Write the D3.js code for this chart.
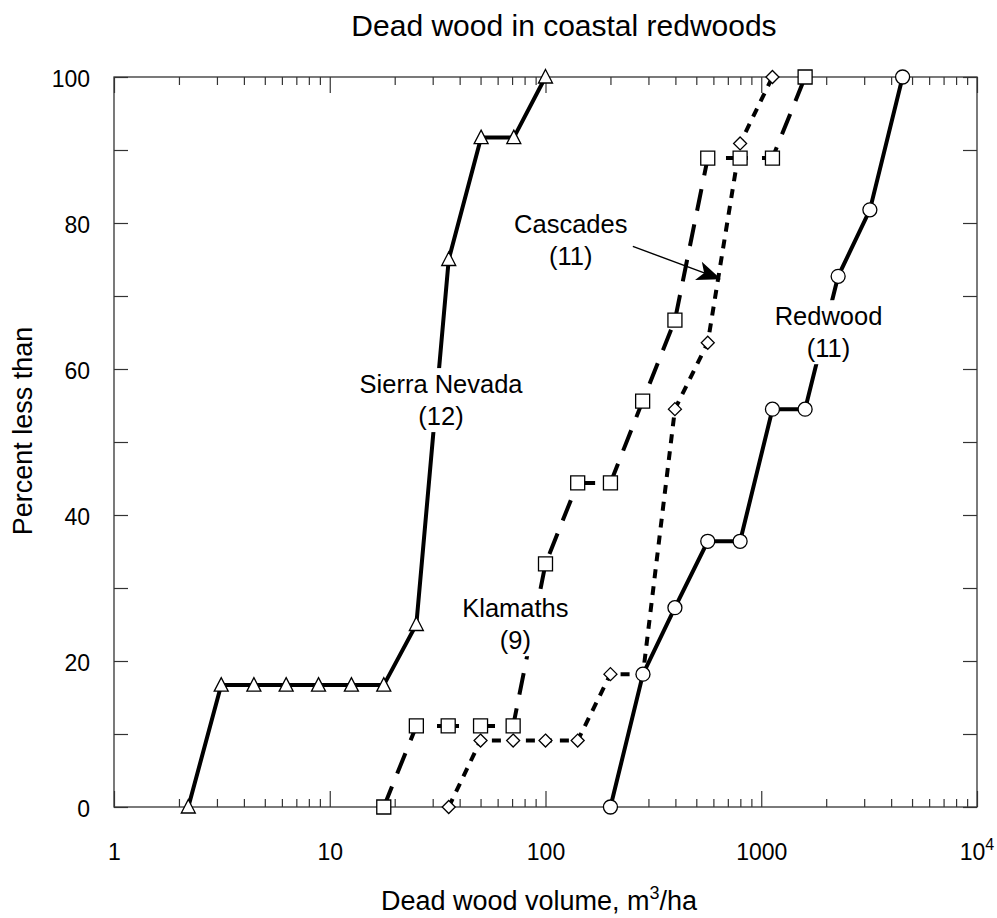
<!DOCTYPE html>
<html>
<head>
<meta charset="utf-8">
<script src="https://cdn.jsdelivr.net/npm/d3@7"></script>
<style>
  body { margin: 0; background: #fff; }
  text { font-family: "Liberation Sans", Arial, Helvetica, sans-serif; fill: #000; }
</style>
</head>
<body>
<svg id="chart" width="997" height="918"></svg>
<script>
// valores (volumen m3/ha, porcentaje)
const sierraX = [2.21, 3.14, 4.45, 6.28, 8.87, 12.6, 17.8, 25.2, 35.6, 50.3, 71.3, 100];
const sierraY = [0, 16.7, 16.7, 16.7, 16.7, 16.7, 16.7, 25, 75, 91.7, 91.7, 100];

const klamathX = [17.8, 25.2, 35.4, 50, 70.8, 100, 141, 200, 282, 398, 565, 798, 1127, 1597];
const klamathY = [0, 11.1, 11.1, 11.1, 11.1, 33.3, 44.4, 44.4, 55.6, 66.7, 88.9, 88.9, 88.9, 100];

const cascadeX = [35.6, 50, 70.8, 100, 141, 200, 283, 398, 565, 798, 1127];
const cascadeY = [0, 9.1, 9.1, 9.1, 9.1, 18.2, 18.2, 54.5, 63.6, 90.9, 100];

const redwoodX = [200, 283, 398, 565, 798, 1127, 1597, 2272, 3188, 4520];
const redwoodY = [0, 18.2, 27.3, 36.4, 36.4, 54.5, 54.5, 72.7, 81.8, 100];

const yTickValues = [0, 10, 20, 30, 40, 50, 60, 70, 80, 90, 100];
const xTickLabels = [1, 10, 100, 1000];

// etiquetas dentro del grafico: texto y posicion en unidades de datos
const labels = [
  { lines: ['Sierra Nevada', '(12)'], x: 32.8, y: 56.7 },
  { lines: ['Cascades', '(11)'], x: 131, y: 78.6 },
  { lines: ['Klamaths', '(9)'], x: 72.5, y: 26.0 },
  { lines: ['Redwood', '(11)'], x: 2050, y: 66.0 }
];
const arrowFrom = [254, 76.8];
const arrowTo = [651, 72.3];

const svg = d3.select('#chart');
const font = '"Liberation Sans", Arial, Helvetica, sans-serif';

const x = d3.scaleLog().domain([1, 1e4]).range([114, 977]);
const y = d3.scaleLinear().domain([0, 100]).range([807, 77]);

// titulo
svg.append('text')
  .attr('x', 564).attr('y', 36)
  .attr('text-anchor', 'middle')
  .attr('font-size', 30)
  .text('Dead wood in coastal redwoods');

const xt = x.ticks();
const isMajor = d => Math.abs(Math.log10(d) % 1) < 1e-9;

// eje inferior, ticks hacia dentro
let gx = svg.append('g').attr('transform', 'translate(0,807)')
  .call(d3.axisBottom(x).tickValues(xt).tickSize(-16).tickPadding(37)
    .tickFormat(d => xTickLabels.includes(d) ? d : ''));
gx.selectAll('.tick line').attr('y2', d => isMajor(d) ? -16 : -8);

// eje superior
let gxt = svg.append('g').attr('transform', 'translate(0,77)')
  .call(d3.axisTop(x).tickValues(xt).tickSize(-16).tickFormat(''));
gxt.selectAll('.tick line').attr('y2', d => isMajor(d) ? 16 : 8);

// eje izquierdo y derecho
let gy = svg.append('g').attr('transform', 'translate(114,2)')
  .call(d3.axisLeft(y).tickValues(yTickValues).tickSize(-14).tickPadding(24)
    .tickFormat(d => d % 20 === 0 ? d : ''));
gy.selectAll('.tick line').attr('transform', 'translate(0,-2)');
let gyr = svg.append('g').attr('transform', 'translate(977,0)')
  .call(d3.axisRight(y).tickValues(yTickValues).tickSize(-14).tickFormat(''));

[gx, gxt, gy, gyr].forEach(g => {
  g.select('.domain').remove();
  g.selectAll('.tick line').attr('stroke', '#333').attr('stroke-width', 1.2);
  g.selectAll('text').attr('font-size', 23).attr('font-family', font).attr('fill', '#000');
});

// etiqueta 10^4
let t4 = svg.append('text')
  .attr('x', x(1e4)).attr('y', 860)
  .attr('text-anchor', 'middle')
  .attr('font-size', 23);
t4.append('tspan').text('10');
t4.append('tspan').attr('font-size', 16).attr('dy', -10).text('4');

// marco
svg.append('rect')
  .attr('x', 114).attr('y', 77)
  .attr('width', 977 - 114).attr('height', 807 - 77)
  .attr('fill', 'none').attr('stroke', '#333').attr('stroke-width', 1.3);

// titulos de ejes
let xtitle = svg.append('text')
  .attr('x', 539).attr('y', 910)
  .attr('text-anchor', 'middle')
  .attr('font-size', 27);
xtitle.append('tspan').text('Dead wood volume, m');
xtitle.append('tspan').attr('font-size', 18).attr('dy', -11).text('3');
xtitle.append('tspan').attr('dy', 11).text('/ha');

svg.append('text')
  .attr('transform', 'translate(32,431) rotate(-90)')
  .attr('text-anchor', 'middle')
  .attr('font-size', 27)
  .text('Percent less than');

// series
const series = [
  { xs: sierraX, ys: sierraY, dash: null, marker: 'triangle' },
  { xs: klamathX, ys: klamathY, dash: '22,14', marker: 'square' },
  { xs: cascadeX, ys: cascadeY, dash: '9,8', marker: 'diamond' },
  { xs: redwoodX, ys: redwoodY, dash: null, marker: 'circle' }
];

const line = d3.line().x(d => x(d[0])).y(d => y(d[1]));

series.forEach(s => {
  svg.append('path')
    .datum(d3.zip(s.xs, s.ys))
    .attr('d', line)
    .attr('fill', 'none')
    .attr('stroke', '#000')
    .attr('stroke-width', 4)
    .attr('stroke-dasharray', s.dash);
});

// etiquetas con fondo blanco
labels.forEach(l => {
  let g = svg.append('g');
  let t = g.append('text')
    .attr('text-anchor', 'middle')
    .attr('font-size', 25.5);
  l.lines.forEach((ln, i) => {
    t.append('tspan')
      .attr('x', x(l.x))
      .attr('y', y(l.y) + i * 32)
      .text(ln);
  });
  let bb = t.node().getBBox();
  g.insert('rect', 'text')
    .attr('x', bb.x - 3).attr('y', bb.y - 2)
    .attr('width', bb.width + 6).attr('height', bb.height + 4)
    .attr('fill', '#fff');
});

// marcadores
const shapes = {
  triangle: 'M0,-7.5L7,6L-7,6Z',
  square: 'M-7,-7L7,-7L7,7L-7,7Z',
  diamond: 'M0,-6.5L6.5,0L0,6.5L-6.5,0Z'
};

series.forEach(s => {
  let pts = d3.zip(s.xs, s.ys);
  if (s.marker === 'circle') {
    svg.append('g').selectAll('circle').data(pts).enter()
      .append('circle')
      .attr('cx', d => x(d[0]))
      .attr('cy', d => y(d[1]))
      .attr('r', 7)
      .attr('fill', '#fff').attr('stroke', '#000').attr('stroke-width', 1.3);
  } else {
    svg.append('g').selectAll('path').data(pts).enter()
      .append('path')
      .attr('d', shapes[s.marker])
      .attr('transform', d => `translate(${x(d[0])},${y(d[1])})`)
      .attr('fill', '#fff').attr('stroke', '#000').attr('stroke-width', 1.3);
  }
});

// flecha de Cascades
const ax0 = x(arrowFrom[0]), ay0 = y(arrowFrom[1]);
const ax1 = x(arrowTo[0]), ay1 = y(arrowTo[1]);
const ang = Math.atan2(ay1 - ay0, ax1 - ax0);
const headLen = 26, spread = 22 * Math.PI / 180, notch = 18;
svg.append('line')
  .attr('x1', ax0).attr('y1', ay0)
  .attr('x2', ax1 - notch * Math.cos(ang)).attr('y2', ay1 - notch * Math.sin(ang))
  .attr('stroke', '#000').attr('stroke-width', 1.4);
const head = [
  [ax1, ay1],
  [ax1 - headLen * Math.cos(ang - spread), ay1 - headLen * Math.sin(ang - spread)],
  [ax1 - notch * Math.cos(ang), ay1 - notch * Math.sin(ang)],
  [ax1 - headLen * Math.cos(ang + spread), ay1 - headLen * Math.sin(ang + spread)]
];
svg.append('path')
  .attr('d', 'M' + head.map(p => p.join(',')).join('L') + 'Z')
  .attr('fill', '#000');
</script>
</body>
</html>
